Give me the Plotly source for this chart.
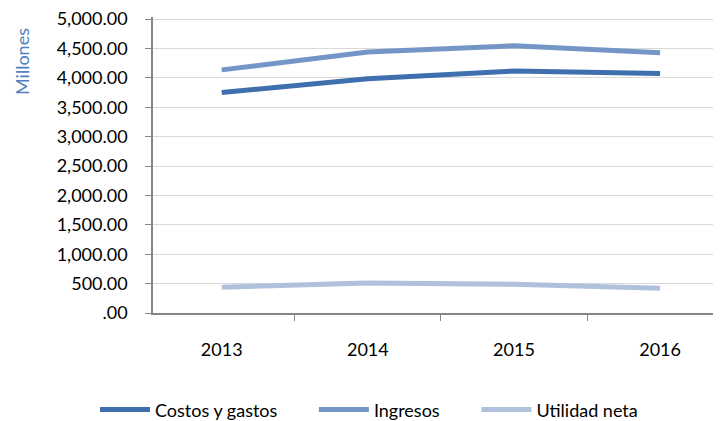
import plotly.graph_objects as go

years = ["2013", "2014", "2015", "2016"]
costos = [3750, 3985, 4115, 4075]
ingresos = [4135, 4440, 4545, 4425]
utilidad = [440, 510, 490, 420]
ytick_vals = [0, 500, 1000, 1500, 2000, 2500, 3000, 3500, 4000, 4500, 5000]
ytick_text = [".00", "500.00", "1,000.00", "1,500.00", "2,000.00", "2,500.00",
              "3,000.00", "3,500.00", "4,000.00", "4,500.00", "5,000.00"]
y_title = "Millones"

font_family = "Lato, Carlito, Noto Sans, sans-serif"

fig = go.Figure()
fig.add_trace(go.Scatter(x=years, y=costos, name="Costos y gastos", mode="lines",
                         line=dict(color="#3F6FAD", width=5), legend="legend"))
fig.add_trace(go.Scatter(x=years, y=ingresos, name="Ingresos", mode="lines",
                         line=dict(color="#7496C7", width=5), legend="legend2"))
fig.add_trace(go.Scatter(x=years, y=utilidad, name="Utilidad neta", mode="lines",
                         line=dict(color="#B0C1DD", width=5), legend="legend3"))

leg_common = dict(orientation="h", xref="container", yref="container",
                  xanchor="left", y=0.027, yanchor="middle",
                  font=dict(size=18), itemwidth=50, bgcolor="rgba(0,0,0,0)")

# page body adds an 8px margin, so the figure is sized to compensate
fig.update_layout(
    width=713, height=413,
    margin=dict(l=145, r=1, t=9, b=108, autoexpand=False),
    paper_bgcolor="white", plot_bgcolor="white",
    font=dict(family=font_family, size=18, color="#000000"),
    showlegend=True,
    legend=dict(x=0.122, **leg_common),
    legend2=dict(x=0.429, **leg_common),
    legend3=dict(x=0.657, **leg_common),
    annotations=[dict(text=y_title, xref="paper", yref="paper", x=-0.231, y=0.848,
                      xanchor="center", yanchor="middle", textangle=-90, showarrow=False,
                      font=dict(size=18, color="#4F81BD"))],
)
fig.update_xaxes(type="category", range=[-0.47, 3.41], showgrid=False,
                 showline=True, linecolor="#868686", linewidth=1.5,
                 ticks="outside", tickson="boundaries", ticklen=6, tickcolor="#868686",
                 ticklabelstandoff=20, tickfont=dict(size=18), automargin=False)
fig.update_yaxes(range=[0, 5034], tickvals=ytick_vals, ticktext=ytick_text,
                 showgrid=True, gridcolor="#D9D9D9", gridwidth=1.2,
                 showline=True, linecolor="#868686", linewidth=1.5,
                 ticks="outside", ticklen=6, tickcolor="#868686",
                 ticklabelstandoff=14, automargin=False, ticklabeloverflow="allow",
                 zeroline=False, tickfont=dict(size=18))

fig.write_html("out.html")
